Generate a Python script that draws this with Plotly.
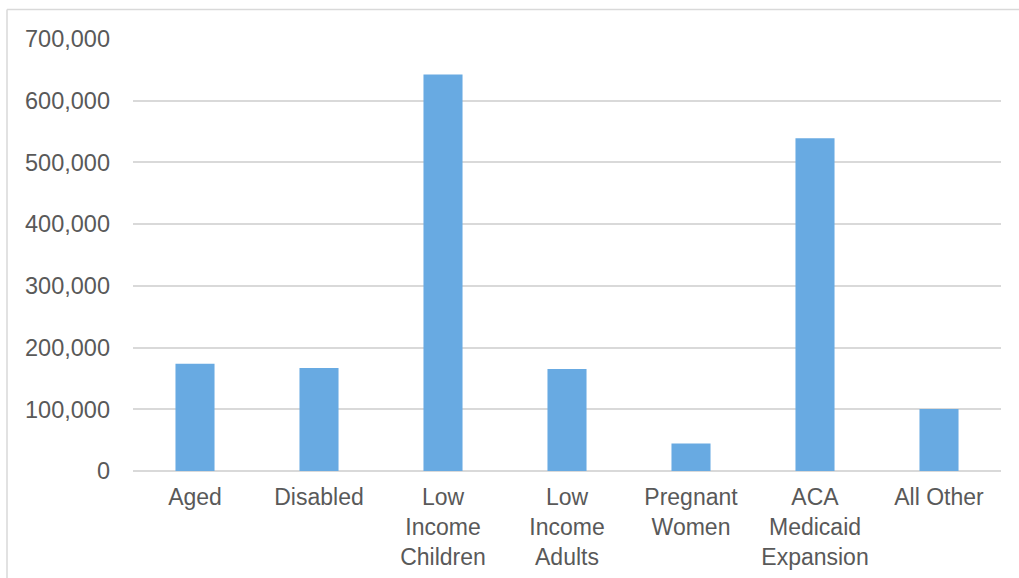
import plotly.graph_objects as go

categories = ["Aged", "Disabled", "Low<br>Income<br>Children", "Low<br>Income<br>Adults",
              "Pregnant<br>Women", "ACA<br>Medicaid<br>Expansion", "All Other"]
values = [173800, 166800, 642600, 165200, 44500, 539100, 100500]
tick_vals = [0, 100000, 200000, 300000, 400000, 500000, 600000, 700000]
tick_text = ["0", "100,000", "200,000", "300,000", "400,000", "500,000", "600,000", "700,000"]

W, H = 1019, 578
L, R, T, B = 133, 18, 38.5, 106.5
pw, ph = W - L - R, H - T - B

fig = go.Figure(go.Bar(x=categories, y=values, marker=dict(color="#68AAE2", line=dict(width=0)),
                       width=0.315))

fig.update_layout(
    width=W, height=H, margin=dict(l=L, r=R, t=T, b=B, pad=0, autoexpand=False),
    paper_bgcolor="white", plot_bgcolor="white", showlegend=False,
    font=dict(family="Liberation Sans, Arial, sans-serif", size=22, color="#595959"),
    xaxis=dict(showgrid=False, showline=False, ticks="", tickangle=0, automargin=False,
               tickfont=dict(size=23), ticklabelstandoff=10),
    yaxis=dict(range=[0, 700000], tickvals=tick_vals, ticktext=tick_text, automargin=False,
               showgrid=True, gridcolor="#D9D9D9", gridwidth=1.5, zeroline=True,
               zerolinecolor="#D9D9D9", zerolinewidth=1.5, showline=False,
               ticks="", ticklabelstandoff=22, tickfont=dict(size=23.5)),
)

x_left = (7 - L) / pw
y_top = (H - B - 9) / ph
fig.add_shape(type="line", xref="paper", yref="paper", x0=x_left, x1=(W + 5 - L) / pw,
              y0=y_top, y1=y_top, line=dict(color="#D9D9D9", width=1.5))
fig.add_shape(type="line", xref="paper", yref="paper", x0=x_left, x1=x_left,
              y0=y_top, y1=(H - B - H - 5) / ph, line=dict(color="#D9D9D9", width=1.5))

fig.write_html("out.html")
